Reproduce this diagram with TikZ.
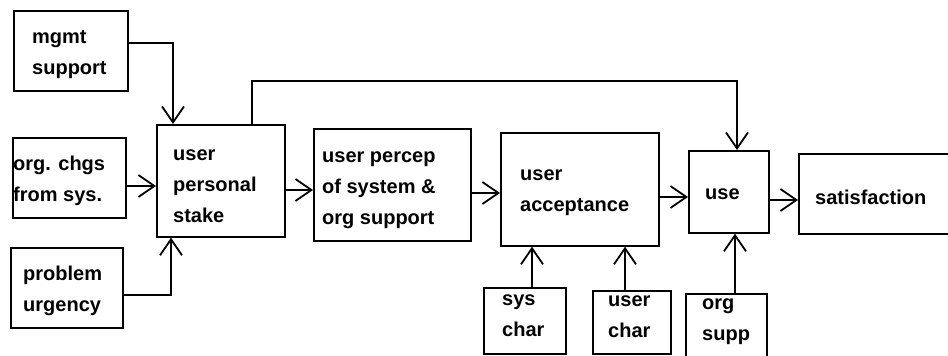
\documentclass[tikz,border=0pt]{standalone}
\usepackage{fontspec}
\setmainfont{Liberation Sans}
\usetikzlibrary{arrows.meta}
\tikzset{
  blk/.style={draw, line width=1.7pt, inner sep=0pt},
  lbl/.style={anchor=west, align=left, inner sep=0pt,
    font=\bfseries\fontsize{20}{31}\selectfont},
  wire/.style={line width=1.7pt},
  arr/.style={wire, -{Straight Barb[length=16pt,width=22pt,line width=1.8pt]}}
}
% \blkbox{name}{x1}{y1}{x2}{y2}
\newcommand{\blkbox}[5]{%
  \node[blk, minimum width={#4-#2}, minimum height={#5-#3}, anchor=north west] (#1) at (#2,#3) {};}
\begin{document}
\begin{tikzpicture}[x=1pt,y=-1pt]
\useasboundingbox (0,0) rectangle (948,356);
\clip (0,0) rectangle (948,356);

% boxes
\blkbox{mgmt}{13}{10}{127}{90}
\blkbox{orgchg}{12}{137}{125}{217}
\blkbox{urg}{10}{247}{122}{327}
\blkbox{stake}{156}{124}{284}{236}
\blkbox{percep}{313}{128}{470}{240}
\blkbox{accept}{500}{132}{658}{245}
\blkbox{use}{688}{150}{768}{232}
\blkbox{sat}{798}{153}{980}{233}
\blkbox{syschar}{483}{287}{565}{353}
\blkbox{userchar}{592}{290}{670}{353}
\blkbox{orgsupp}{685}{293}{766}{356}

% labels
\node[lbl] (mgmtT)     at (32,55)   {mgmt\\support};
\node[lbl] (orgchgT)   at (13,181)  {org. chgs\\from sys.};
\node[lbl] (urgT)      at (23,291)  {problem\\urgency};
\node[lbl] (stakeT)    at (173,186) {user\\personal\\stake};
\node[lbl] (percepT)   at (322,190) {user percep\\of system \&\\org support};
\node[lbl] (acceptT)   at (520,193) {user\\acceptance};
\node[lbl] (useT)      at (705,194) {use};
\node[lbl] (satT)      at (815,197) {satisfaction};
\node[lbl] (syscharT)  at (502,316) {sys\\char};
\node[lbl] (usercharT) at (608,317) {user\\char};
\node[lbl] (orgsuppT)  at (702,322) {org\\supp};

% inputs to the personal stake
\draw[arr] (mgmt.east |- 0,43) -| (stake.north -| 173,0);
\draw[arr] (orgchg.east |- 0,186) -- (stake.west |- 0,186);
\draw[arr] (urg.east |- 0,295) -| (stake.south -| 171,0);

% main chain
\draw[arr] (stake.east |- 0,190) -- (percep.west |- 0,190);
\draw[arr] (percep.east |- 0,193) -- (accept.west |- 0,193);
\draw[arr] (accept.east |- 0,197) -- (use.west |- 0,197);
\draw[arr] (use.east |- 0,200) -- (sat.west |- 0,200);

% characteristics feeding acceptance and use
\draw[arr] (syschar.north -| 532,0) -- (accept.south -| 532,0);
\draw[arr] (userchar.north -| 625,0) -- (accept.south -| 625,0);
\draw[arr] (orgsupp.north -| 735,0) -- (use.south -| 735,0);

% direct path from personal stake to use
\coordinate (fbA) at (252,81);
\coordinate (fbB) at (737,81);
\draw[arr] (stake.north -| fbA) -- (fbA) -- (fbB) -- (use.north -| fbB);
\end{tikzpicture}
\end{document}
